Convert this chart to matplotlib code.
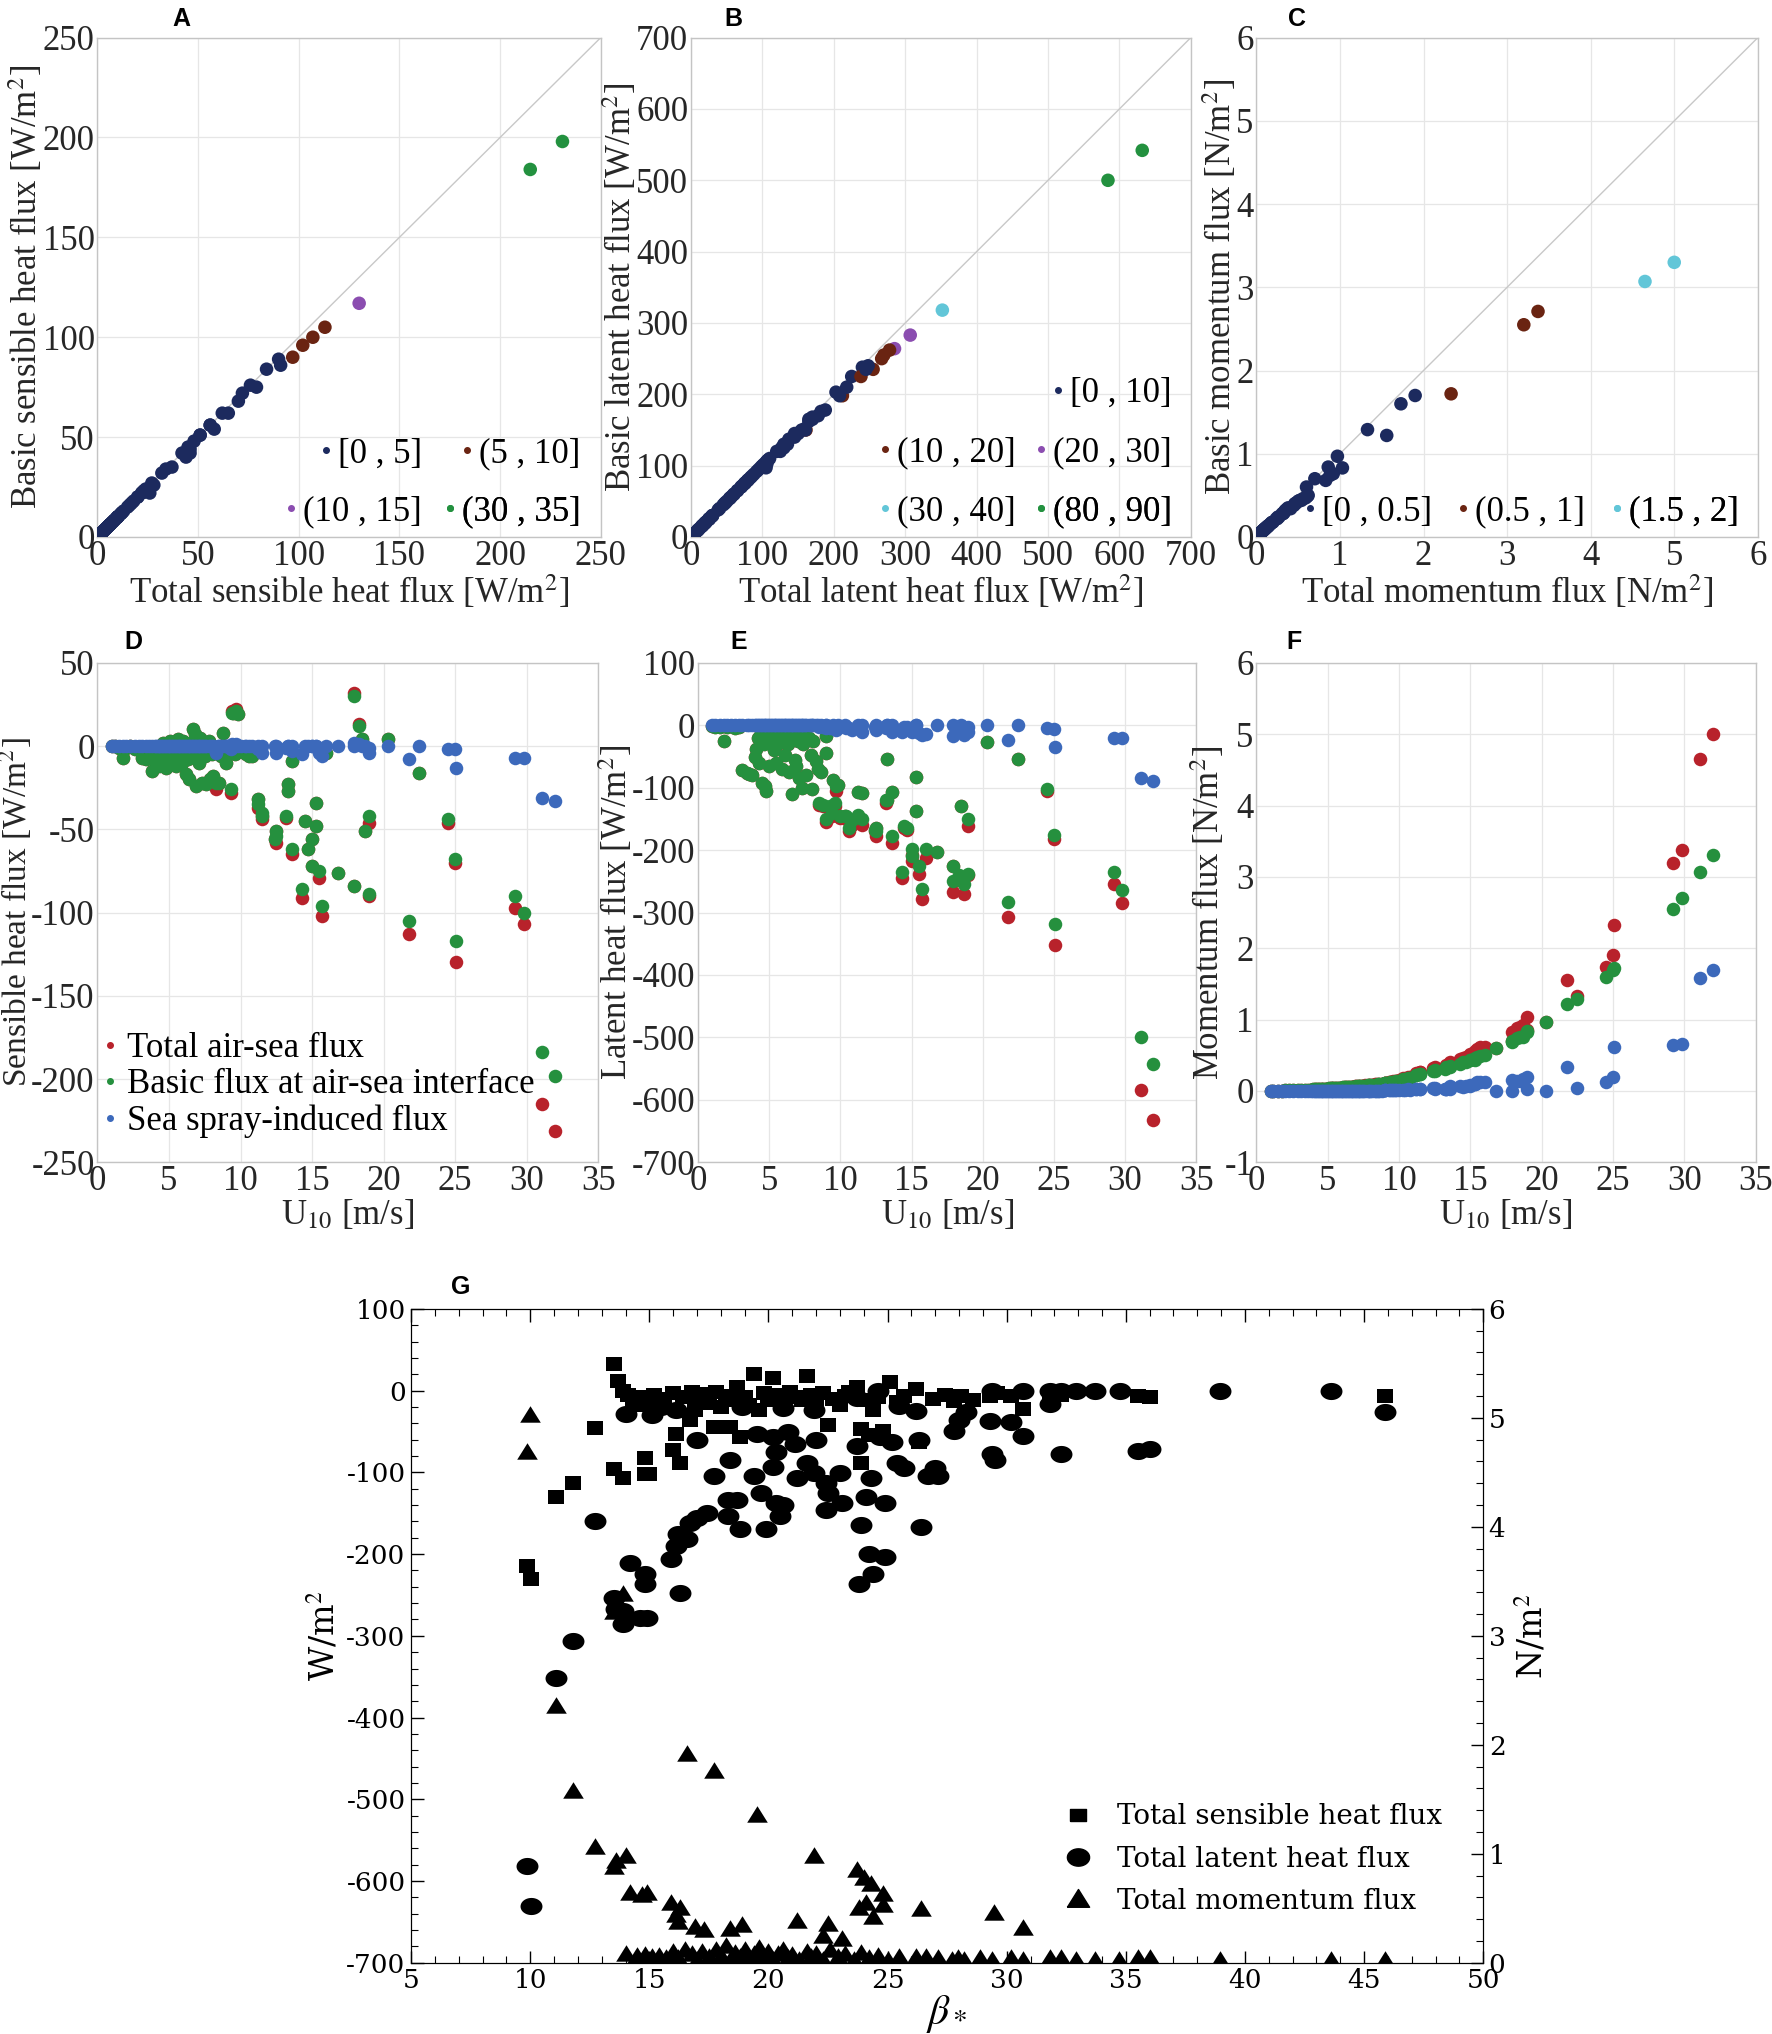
import matplotlib
matplotlib.use('Agg')
from matplotlib import pyplot as plt
from matplotlib.lines import Line2D
import numpy as np

plt.rcParams['font.family'] = 'serif'
plt.rcParams['font.serif'] = ['Liberation Serif', 'DejaVu Serif']
plt.rcParams['mathtext.fontset'] = 'stix'
plt.rcParams['axes.unicode_minus'] = False

# ---- observations, weak wind (U10 < 11 m/s) ----
u10_low = [1.0, 1.2, 1.5, 1.8, 2.0, 2.3, 2.6, 2.9, 3.1, 3.4,
           3.6, 3.8, 4.0, 4.1, 4.2, 4.3, 4.4, 4.5, 4.6, 4.7,
           4.8, 4.9, 5.0, 5.1, 5.2, 5.3, 5.4, 5.5, 5.6, 5.7,
           5.8, 5.9, 6.0, 6.1, 6.2, 6.3, 6.4, 6.5, 6.6, 6.7,
           6.8, 6.9, 7.0, 7.1, 7.2, 7.3, 7.4, 7.5, 7.6, 7.8,
           7.9, 8.0, 8.1, 8.3, 8.4, 8.5, 8.6, 8.8, 9.0, 9.0,
           9.0, 9.3, 9.4, 9.5, 9.6, 9.7, 9.8, 10.0, 10.4, 10.8]
shf_t_low = [0, 0, -1, -7, -1, 0, -2, -1, -7, -8,
             -4, -15, -6, -10, -3, -12, -5, -8, 2, -10,
             -13, -4, -11, 3, -6, -9, -2, -12, 4, -7,
             -3, -10, 3, -5, -17, -8, -20, 2, -6, 10,
             7, -24, -4, -10, 5, -22, -2, -6, -23, 3,
             -20, -5, -18, -26, -2, -22, -6, 8, -4, -10,
             -3, -28, 21, 20, -5, 22, 19, -3, -5, -6]
shf_b_low = [0, 0, -1, -7, -1, 0, -2, -1, -7, -8,
             -4, -15, -6, -10, -3, -12, -5, -8, 2, -10,
             -13, -4, -11, 3, -6, -9, -2, -12, 4, -7,
             -3, -10, 3, -5, -17, -8, -20, 2, -6, 10,
             7, -24, -4, -10, 5, -22, -2, -6, -23, 3,
             -20, -5, -18, -22, -2, -22, -6, 8, -4, -10,
             -3, -26, 20, 20, -5, 21, 19, -3, -5, -6]
lhf_t_low = [-1, -2, -3, -25, -2, -1, -4, -3, -72, -76,
             -78, -80, -50, -38, -20, -60, -10, -92, -30, -98,
             -105, -15, -65, -25, -8, -40, -18, -60, -12, -28,
             -5, -70, -22, -48, -16, -30, -75, -10, -110, -20,
             -55, -65, -25, -85, -15, -100, -30, -5, -80, -20,
             -47, -102, -25, -57, -70, -127, -75, -130, -17, -155,
             -45, -135, -145, -88, -130, -105, -95, -148, -150, -160]
lhf_b_low = [-1, -2, -3, -25, -2, -1, -4, -3, -72, -76,
             -78, -80, -50, -38, -20, -60, -10, -92, -30, -98,
             -105, -15, -65, -25, -8, -40, -18, -60, -12, -28,
             -5, -70, -22, -48, -16, -30, -75, -10, -110, -20,
             -55, -65, -25, -85, -15, -100, -30, -5, -80, -20,
             -47, -102, -25, -57, -70, -125, -75, -128, -17, -150,
             -45, -130, -140, -88, -125, -97, -95, -145, -145, -152]
tau_t_low = [0.002, 0.003, 0.004, 0.005, 0.006, 0.007, 0.009, 0.011, 0.012, 0.014,
             0.016, 0.018, 0.020, 0.021, 0.022, 0.023, 0.024, 0.026, 0.027, 0.028,
             0.030, 0.031, 0.032, 0.034, 0.035, 0.037, 0.038, 0.040, 0.041, 0.043,
             0.044, 0.046, 0.047, 0.049, 0.050, 0.052, 0.054, 0.055, 0.057, 0.059,
             0.060, 0.062, 0.064, 0.066, 0.068, 0.070, 0.072, 0.074, 0.076, 0.080,
             0.082, 0.085, 0.087, 0.090, 0.093, 0.096, 0.098, 0.100, 0.110, 0.110,
             0.110, 0.120, 0.125, 0.130, 0.135, 0.140, 0.145, 0.150, 0.170, 0.190]
tau_b_low = [0.002, 0.003, 0.004, 0.005, 0.006, 0.007, 0.009, 0.011, 0.012, 0.014,
             0.016, 0.018, 0.020, 0.021, 0.022, 0.023, 0.024, 0.026, 0.027, 0.028,
             0.030, 0.031, 0.032, 0.034, 0.035, 0.037, 0.038, 0.040, 0.041, 0.043,
             0.044, 0.046, 0.047, 0.049, 0.050, 0.052, 0.054, 0.055, 0.057, 0.059,
             0.058, 0.060, 0.062, 0.063, 0.065, 0.067, 0.069, 0.071, 0.072, 0.076,
             0.078, 0.081, 0.083, 0.085, 0.088, 0.091, 0.093, 0.095, 0.104, 0.104,
             0.104, 0.113, 0.118, 0.122, 0.127, 0.131, 0.136, 0.140, 0.158, 0.176]

# ---- observations, moderate to strong wind ----
u10_high = [32.0, 31.1, 29.8, 29.2, 25.05, 25.0, 24.5, 22.5, 21.8, 20.3,
            19.0, 19.0, 18.7, 18.5, 18.3, 17.9, 17.9, 16.8, 16.0, 15.7,
            15.5, 15.3, 15.3, 15.0, 15.0, 14.7, 14.5, 14.3, 13.6, 13.6,
            13.3, 13.3, 13.2, 12.5, 12.5, 12.4, 11.5, 11.5, 11.2, 11.2,
            10.6, 10.3]
shf_t_high = [-231, -215, -107, -97, -130, -70, -46, -16, -113, 4,
              -46, -90, -51, 4, 13, 32, -84, -76, -4, -102,
              -79, -34, -48, -56, -72, -62, -45, -91, -65, -9,
              -23, -27, -43, -58, -51, -56, -44, -42, -37, -32,
              -6, -3]
shf_b_high = [-198, -184, -100, -90, -117, -68, -44, -16, -105, 4,
              -42, -89, -51, 4, 12, 30, -84, -76, -4, -96,
              -75, -34, -48, -56, -72, -62, -45, -86, -62, -9,
              -23, -27, -42, -54, -51, -56, -40, -42, -35, -32,
              -6, -3]
lhf_t_high = [-632, -584, -285, -255, -352, -182, -106, -54, -307, -26,
              -161, -240, -270, -130, -248, -267, -225, -203, -212, -278,
              -238, -137, -83, -208, -218, -168, -165, -245, -188, -107,
              -120, -54, -125, -178, -165, -170, -160, -108, -145, -107,
              -170, -145]
lhf_b_high = [-542, -500, -264, -235, -318, -176, -102, -54, -283, -26,
              -150, -238, -255, -130, -240, -250, -225, -203, -198, -262,
              -225, -137, -83, -198, -210, -165, -162, -235, -178, -107,
              -120, -54, -120, -170, -165, -168, -150, -108, -143, -107,
              -165, -145]
tau_t_high = [5.00, 4.65, 3.37, 3.20, 2.33, 1.90, 1.73, 1.33, 1.56, 0.97,
              1.03, 0.86, 0.92, 0.90, 0.88, 0.83, 0.70, 0.60, 0.62, 0.61,
              0.59, 0.56, 0.54, 0.52, 0.50, 0.48, 0.46, 0.45, 0.41, 0.38,
              0.36, 0.35, 0.34, 0.33, 0.31, 0.32, 0.27, 0.26, 0.25, 0.24,
              0.20, 0.18]
tau_b_high = [3.30, 3.07, 2.71, 2.55, 1.72, 1.70, 1.60, 1.29, 1.22, 0.97,
              0.83, 0.84, 0.76, 0.76, 0.74, 0.68, 0.70, 0.60, 0.50, 0.49,
              0.47, 0.46, 0.44, 0.44, 0.43, 0.41, 0.40, 0.38, 0.34, 0.35,
              0.33, 0.32, 0.31, 0.29, 0.28, 0.28, 0.24, 0.24, 0.22, 0.22,
              0.18, 0.17]

u10 = np.array(u10_low + u10_high)
shf_t = np.array(shf_t_low + shf_t_high, dtype=float)
shf_b = np.array(shf_b_low + shf_b_high, dtype=float)
lhf_t = np.array(lhf_t_low + lhf_t_high, dtype=float)
lhf_b = np.array(lhf_b_low + lhf_b_high, dtype=float)
tau_t = np.array(tau_t_low + tau_t_high)
tau_b = np.array(tau_b_low + tau_b_high)
# spray-induced part = total - basic
shf_s = shf_t - shf_b
lhf_s = lhf_t - lhf_b
tau_s = tau_t - tau_b

# bins of the spray-induced flux used to colour panels A-C
a_lo, a_hi = [0, 5, 10, 30], [5, 10, 15, 35]
a_labels = ['[0 , 5]', '(5 , 10]', '(10 , 15]', '(30 , 35]']
a_colors = ['#1c2a5e', '#6a2412', '#8b4db0', '#23913f']
b_lo, b_hi = [0, 10, 20, 30, 80], [10, 20, 30, 40, 90]
b_labels = ['[0 , 10]', '(10 , 20]', '(20 , 30]', '(30 , 40]', '(80 , 90]']
b_colors = ['#1c2a5e', '#6a2412', '#8b4db0', '#62c6d8', '#23913f']
c_lo, c_hi = [0, 0.5, 1.5], [0.5, 1, 2]
c_labels = ['[0 , 0.5]', '(0.5 , 1]', '(1.5 , 2]']
c_colors = ['#1c2a5e', '#6a2412', '#62c6d8']

# ---- panel G: flux against beta* ----
g_beta_sh = [9.85, 10.05, 11.1, 11.8, 12.7, 13.5, 13.5, 13.7, 13.9, 13.9,
             14.1, 14.3, 14.5, 14.7, 14.8, 14.8, 15.0, 15.0, 15.2, 15.4,
             15.6, 16.0, 16.0, 16.1, 16.3, 16.4, 16.7, 16.8, 16.9, 17.1,
             17.3, 17.5, 17.7, 17.8, 18.0, 18.2, 18.4, 18.5, 18.7, 18.8,
             19.0, 19.2, 19.4, 19.6, 19.8, 20.0, 20.2, 20.4, 20.6, 20.9,
             21.1, 21.4, 21.6, 21.8, 22.0, 22.3, 22.5, 22.7, 23.0, 23.2,
             23.4, 23.7, 23.9, 23.9, 24.1, 24.2, 24.4, 24.6, 24.8, 25.1,
             25.4, 25.7, 26.2, 26.3, 26.9, 27.4, 27.8, 28.1, 28.6, 29.3,
             29.6, 30.2, 30.7, 31.8, 32.3, 35.5, 36.0, 45.9]
g_sh = [-214, -230, -130, -113, -46, 33, -96, 12, -107, 0,
        -5, -12, -18, -8, -82, -102, -102, -15, -5, -20,
        -10, -73, -3, -53, -89, -8, -36, -2, -24, -10,
        -4, -15, -44, -2, -20, -6, -44, -12, 4, -57,
        -8, -18, 20, -24, -3, -12, 16, -5, -15, -2,
        -8, -12, 18, -5, -20, -3, -42, -10, -17, -6,
        -2, 5, -47, -88, -12, -54, -24, -8, -49, 10,
        -14, -6, 2, -63, -10, -5, -13, -7, -12, -7,
        -3, -7, -22, -7, -5, -7, -8, -7]
g_beta_lh = [9.85, 10.05, 11.1, 11.8, 12.7, 13.5, 13.6, 13.9, 13.9, 14.0,
             14.2, 14.6, 14.8, 14.8, 14.9, 15.1, 15.5, 15.9, 16.1, 16.1,
             16.2, 16.3, 16.6, 16.7, 17.0, 17.0, 17.4, 17.7, 18.3, 18.3,
             18.4, 18.7, 18.8, 18.9, 19.4, 19.5, 19.7, 19.9, 20.2, 20.2,
             20.3, 20.3, 20.5, 20.6, 20.6, 20.8, 21.1, 21.2, 21.6, 21.9,
             21.9, 22.0, 22.4, 22.4, 22.5, 23.0, 23.1, 23.7, 23.7, 23.8,
             23.9, 24.1, 24.2, 24.3, 24.4, 24.6, 24.7, 24.9, 24.9, 25.2,
             25.4, 25.5, 25.7, 26.2, 26.3, 26.4, 26.7, 27.0, 27.1, 27.8,
             28.0, 28.3, 29.3, 29.4, 29.4, 29.5, 30.2, 30.7, 30.7, 31.8,
             31.8, 32.3, 32.3, 32.9, 33.7, 34.75, 35.5, 36.0, 38.95, 43.6,
             45.9]
g_lh = [-582, -630, -351, -306, -160, -254, -267, -270, -285, -28,
        -211, -278, -224, -237, -278, -30, -20, -206, -190, -24,
        -176, -247, -182, -162, -156, -60, -150, -104, -134, -153,
        -85, -134, -169, -20, -104, -53, -125, -169, -94, -57,
        -75, -137, -153, -140, -21, -51, -65, -107, -89, -101,
        -24, -60, -113, -146, -125, -101, -137, -68, -9, -237,
        -165, -130, -200, -107, -224, 0, -57, -203, -137, -63,
        -89, -19, -95, -25, -60, -167, -105, -95, -105, -49,
        -36, -26, -37, 0, -78, -85, -38, -55, 0, -16,
        0, 0, -78, 0, 0, 0, -74, -72, 0, 0,
        -26]
g_beta_tau = [9.85, 10.0, 11.1, 11.8, 12.7, 13.5, 13.5, 13.6, 13.9, 14.0,
              14.2, 14.7, 14.9, 15.9, 16.1, 16.2, 16.3, 16.6, 16.9, 17.3,
              17.7, 18.4, 18.9, 19.5, 21.2, 21.9, 22.3, 22.5, 23.1, 23.7,
              23.8, 24.0, 24.1, 24.3, 24.4, 24.8, 24.8, 26.4, 29.45, 30.7,
              14.0, 14.5, 14.8, 15.1, 15.4, 15.7, 16.0, 16.2, 16.5, 16.8,
              17.0, 17.2, 17.5, 17.8, 18.0, 18.2, 18.4, 18.6, 18.8, 19.0,
              19.2, 19.4, 19.6, 19.8, 20.0, 20.2, 20.4, 20.6, 20.8, 21.0,
              21.3, 21.6, 21.8, 22.0, 22.3, 22.6, 22.9, 23.2, 23.6, 23.9,
              24.2, 24.6, 25.0, 25.5, 26.2, 26.6, 27.1, 27.7, 27.95, 28.2,
              28.9, 29.4, 30.2, 30.7, 31.8, 32.3, 32.9, 33.7, 34.7, 35.5,
              36.0, 38.95, 43.6, 45.9]
g_tau = [4.69, 5.03, 2.36, 1.58, 1.06, 0.88, 3.22, 0.93, 3.38, 0.98,
         0.64, 0.62, 0.64, 0.55, 0.44, 0.37, 0.50, 1.92, 0.33, 0.30,
         1.76, 0.31, 0.35, 1.36, 0.38, 0.98, 0.25, 0.36, 0.22, 0.85,
         0.50, 0.78, 0.55, 0.72, 0.42, 0.63, 0.53, 0.49, 0.46, 0.32,
         0.08, 0.06, 0.07, 0.05, 0.06, 0.04, 0.10, 0.04, 0.12, 0.08,
         0.03, 0.10, 0.05, 0.12, 0.06, 0.15, 0.03, 0.09, 0.05, 0.12,
         0.04, 0.08, 0.14, 0.05, 0.10, 0.03, 0.08, 0.12, 0.04, 0.07,
         0.03, 0.10, 0.05, 0.08, 0.03, 0.12, 0.05, 0.08, 0.03, 0.09,
         0.04, 0.06, 0.03, 0.05, 0.05, 0.05, 0.04, 0.03, 0.04, 0.03,
         0.04, 0.03, 0.04, 0.03, 0.04, 0.04, 0.03, 0.03, 0.03, 0.04,
         0.04, 0.03, 0.03, 0.03]

RED, GREEN, BLUE = '#b8222b', '#25903e', '#3c69bb'
TXT = '#262626'
FS = 25
DOT = 95


def bin_colors(diff, lo, hi, colors):
    out = []
    for d in diff:
        c = colors[-1]
        for i in range(len(lo)):
            if d <= hi[i] + 1e-9 and (d > lo[i] + 1e-9 or i == 0):
                c = colors[i]
                break
        out.append(c)
    return out


def matlab_style(ax, xlim, xticks, ylim, yticks):
    ax.set_xlim(xlim)
    ax.set_ylim(ylim)
    ax.set_xticks(xticks)
    ax.set_yticks(yticks)
    ax.grid(True, color='#e6e6e6', lw=0.9)
    ax.set_axisbelow(True)
    for s in ax.spines.values():
        s.set_color('#c4c4c4')
        s.set_linewidth(1.0)
    ax.tick_params(length=0, labelsize=FS, labelcolor=TXT, pad=2)


def dot(c):
    return Line2D([0], [0], marker='o', ls='none', color=c, markersize=4)


def entry(ax, color, label, x, y):
    # one legend item, its right end placed at (x, y) in axes fraction
    leg = ax.legend([dot(color)], [label], loc='center right', bbox_to_anchor=(x, y),
                    frameon=False, fontsize=FS, handlelength=0.5, handletextpad=0.1,
                    borderpad=0, borderaxespad=0)
    ax.add_artist(leg)


fig = plt.figure(figsize=(17.72, 20.34), dpi=100)

top_pos = [[0.055, 0.736, 0.284, 0.2455],
           [0.390, 0.736, 0.282, 0.2455],
           [0.709, 0.736, 0.283, 0.2455]]
mid_pos = [[0.055, 0.4286, 0.2826, 0.2455],
           [0.394, 0.4286, 0.281, 0.2455],
           [0.709, 0.4286, 0.2818, 0.2455]]

# ---- A ----
ax = fig.add_axes(top_pos[0])
matlab_style(ax, (0, 250), range(0, 251, 50), (0, 250), range(0, 251, 50))
ax.plot([0, 250], [0, 250], color='#c8c8c8', lw=1)
ax.scatter(-shf_t, -shf_b, s=DOT, c=bin_colors(-shf_s, a_lo, a_hi, a_colors),
           linewidths=0, zorder=3)
ax.set_xlabel('Total sensible heat flux [W/m$^2$]', fontsize=FS, color=TXT, labelpad=0)
ax.set_ylabel('Basic sensible heat flux [W/m$^2$]', fontsize=FS, color=TXT, labelpad=-2)
for k, (x, y) in enumerate([(0.645, 0.166), (0.96, 0.166), (0.645, 0.05), (0.96, 0.05)]):
    entry(ax, a_colors[k], a_labels[k], x, y)

# ---- B ----
ax = fig.add_axes(top_pos[1])
matlab_style(ax, (0, 700), range(0, 701, 100), (0, 700), range(0, 701, 100))
ax.plot([0, 700], [0, 700], color='#c8c8c8', lw=1)
ax.scatter(-lhf_t, -lhf_b, s=DOT, c=bin_colors(-lhf_s, b_lo, b_hi, b_colors),
           linewidths=0, zorder=3)
ax.set_xlabel('Total latent heat flux [W/m$^2$]', fontsize=FS, color=TXT, labelpad=0)
ax.set_ylabel('Basic latent heat flux [W/m$^2$]', fontsize=FS, color=TXT, labelpad=-2)
for k, (x, y) in enumerate([(0.962, 0.288), (0.65, 0.169), (0.962, 0.169),
                            (0.65, 0.05), (0.962, 0.05)]):
    entry(ax, b_colors[k], b_labels[k], x, y)

# ---- C ----
ax = fig.add_axes(top_pos[2])
matlab_style(ax, (0, 6), range(0, 7), (0, 6), range(0, 7))
ax.plot([0, 6], [0, 6], color='#c8c8c8', lw=1)
ax.scatter(tau_t, tau_b, s=DOT, c=bin_colors(tau_s, c_lo, c_hi, c_colors),
           linewidths=0, zorder=3)
ax.set_xlabel('Total momentum flux [N/m$^2$]', fontsize=FS, color=TXT, labelpad=0)
ax.set_ylabel('Basic momentum flux [N/m$^2$]', fontsize=FS, color=TXT, labelpad=-2)
for k, x in enumerate([0.35, 0.656, 0.962]):
    entry(ax, c_colors[k], c_labels[k], x, 0.05)

# ---- D, E, F ----
mid = [(shf_t, shf_b, shf_s, (-250, 50), range(-250, 51, 50), 'Sensible heat flux [W/m$^2$]'),
       (lhf_t, lhf_b, lhf_s, (-700, 100), range(-700, 101, 100), 'Latent heat flux [W/m$^2$]'),
       (tau_t, tau_b, tau_s, (-1, 6), range(-1, 7), 'Momentum flux [N/m$^2$]')]
for i, (tot, bas, spr, ylim, yt, ylab) in enumerate(mid):
    ax = fig.add_axes(mid_pos[i])
    matlab_style(ax, (0, 35), range(0, 36, 5), ylim, yt)
    ax.scatter(u10, tot, s=DOT, color=RED, linewidths=0, zorder=3)
    ax.scatter(u10, bas, s=DOT, color=GREEN, linewidths=0, zorder=4)
    ax.scatter(u10, spr, s=DOT, color=BLUE, linewidths=0, zorder=5)
    ax.set_xlabel('U$_{10}$ [m/s]', fontsize=FS, color=TXT, labelpad=0)
    if i == 0:
        # no room left of the tick labels: slightly smaller, pinned to the edge
        ax.set_ylabel(ylab, fontsize=24, color=TXT)
        ax.yaxis.set_label_coords(-0.127, 0.5)
        ax.legend([dot(RED), dot(GREEN), dot(BLUE)],
                  ['Total air-sea flux', 'Basic flux at air-sea interface',
                   'Sea spray-induced flux'],
                  loc='lower left', frameon=False, fontsize=FS, handlelength=0.5,
                  handletextpad=0.25, labelspacing=0.1, borderaxespad=0,
                  bbox_to_anchor=(-0.02, 0.02))
    else:
        ax.set_ylabel(ylab, fontsize=FS, color=TXT, labelpad=-2)

# ---- G ----
ellipse = [(np.cos(a), 0.78 * np.sin(a)) for a in np.linspace(0, 2 * np.pi, 41)]
rect = [(-1, -0.85), (1, -0.85), (1, 0.85), (-1, 0.85), (-1, -0.85)]
tri = [(-1, -0.7), (1, -0.7), (0, 0.9), (-1, -0.7)]
GF = 'DejaVu Serif'
GS = 19

ax = fig.add_axes([0.232, 0.035, 0.605, 0.3215])
ax2 = ax.twinx()
ax.set_xlim(5, 50)
ax.set_ylim(-700, 100)
ax2.set_ylim(0, 6)
ax.set_xticks(range(5, 51, 5))
ax.set_xticks(range(5, 51), minor=True)
ax.set_yticks(range(-700, 101, 100))
ax.set_yticks(range(-700, 101, 20), minor=True)
ax2.set_yticks(range(0, 7))
ax2.set_yticks(np.arange(0, 6.01, 0.2), minor=True)
ax.tick_params(which='both', direction='in', top=True, right=False,
               labelsize=GS, labelfontfamily=GF, pad=4)
ax.tick_params(which='major', length=9, width=1)
ax.tick_params(which='minor', length=5, width=0.8)
ax2.tick_params(which='both', direction='in', labelsize=GS, labelfontfamily=GF, pad=4)
ax2.tick_params(which='major', length=9, width=1)
ax2.tick_params(which='minor', length=5, width=0.8)
ax.scatter(g_beta_sh, g_sh, s=130, marker=rect, color='black', linewidths=0, zorder=3)
ax.scatter(g_beta_lh, g_lh, s=250, marker=ellipse, color='black', linewidths=0, zorder=3)
ax2.scatter(g_beta_tau, g_tau, s=220, marker=tri, color='black', linewidths=0, zorder=3)
ax.set_xlabel(r'$\beta_*$', fontsize=30, labelpad=0)
ax.set_ylabel('W/m$^2$', fontsize=24, fontfamily=GF, labelpad=4)
ax2.set_ylabel('N/m$^2$', fontsize=24, fontfamily=GF, rotation=90, labelpad=6)
hg = [Line2D([0], [0], marker=rect, ls='none', color='black', markersize=11),
      Line2D([0], [0], marker=ellipse, ls='none', color='black', markersize=16),
      Line2D([0], [0], marker=tri, ls='none', color='black', markersize=16)]
ax2.legend(hg, ['Total sensible heat flux', 'Total latent heat flux', 'Total momentum flux'],
           loc='lower right', bbox_to_anchor=(0.985, 0.035), frameon=False,
           prop={'family': GF, 'size': 20}, handlelength=1.0, handletextpad=0.9,
           labelspacing=0.55)

# panel letters
for lab, x, y in [('A', 0.1025, 0.9905), ('B', 0.4136, 0.9905), ('C', 0.732, 0.9905),
                  ('D', 0.0754, 0.6845), ('E', 0.417, 0.6845), ('F', 0.730, 0.6845),
                  ('G', 0.260, 0.3672)]:
    fig.text(x, y, lab, fontfamily='Liberation Sans', fontweight='bold',
             fontsize=18, ha='center', va='center')

fig.savefig('out.png', dpi=100)
